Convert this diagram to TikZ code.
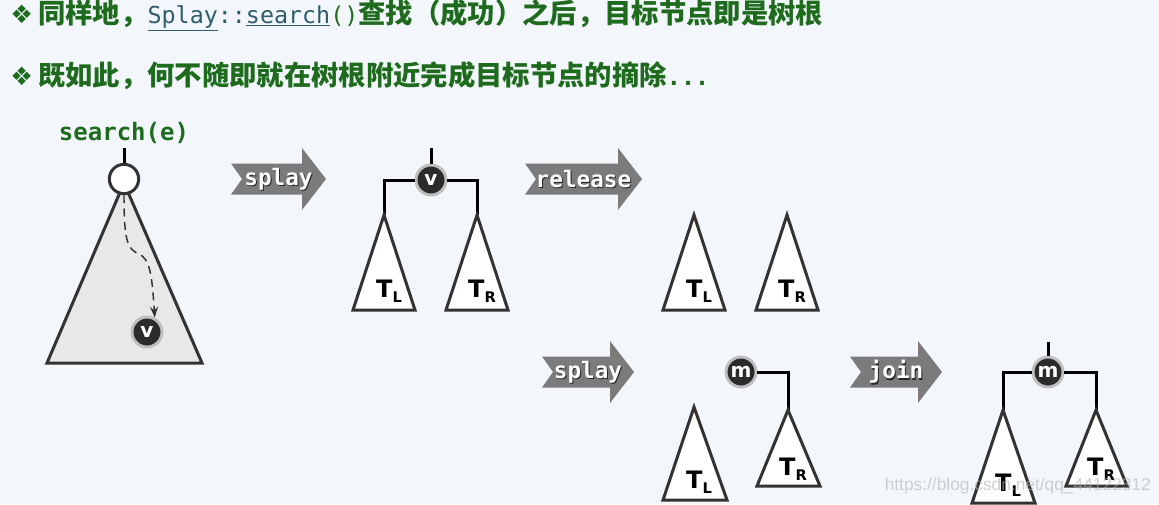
\documentclass[tikz,border=0pt]{standalone}
\usepackage{fontspec}
\setsansfont{DejaVu Sans}
\setmonofont{DejaVu Sans Mono}
\newfontfamily\cjkfont{Noto Sans CJK SC}
\newfontfamily\symfont{DejaVu Sans}
\newfontfamily\markfont{Liberation Sans}
\usetikzlibrary{positioning,arrows.meta}

\definecolor{pageBg}{HTML}{F3F7FB}
\definecolor{titleGreen}{HTML}{1E6B1E}
\definecolor{codeTeal}{HTML}{2E5D6E}
\definecolor{treeDark}{HTML}{333333}
\definecolor{opGray}{HTML}{7B7B7B}

\newcommand{\tsub}[1]{T\raisebox{-0.2em}{\fontsize{11}{11}\selectfont #1}}

\begin{document}
\begin{tikzpicture}[%
    x=0.75pt, y=-0.75pt,
    title/.style={%
        anchor=west,
        inner sep=0pt,
        text=titleGreen,
        font=\cjkfont\bfseries\fontsize{20.5}{20.5}\selectfont
    },
    subtree/.style={%
        draw=treeDark,
        fill=white,
        line width=2.25pt
    },
    bigtree/.style={%
        subtree,
        fill=black!9
    },
    edge/.style={%
        draw=black,
        line width=2.25pt
    },
    root/.style={%
        draw=treeDark,
        fill=white,
        circle,
        line width=2.25pt,
        minimum size=22pt,
        inner sep=0pt
    },
    hot/.style={%
        circle,
        fill=black!83,
        draw=black!25,
        line width=2.2pt,
        minimum size=22.5pt,
        inner sep=0pt,
        text=white,
        font=\sffamily\bfseries\fontsize{15}{15}\selectfont
    },
    sublabel/.style={%
        inner sep=0pt,
        font=\sffamily\bfseries\fontsize{18}{18}\selectfont
    },
    oplabel/.style={%
        inner sep=0pt,
        font=\ttfamily\bfseries\fontsize{17}{17}\selectfont
    },
    pics/op/.style 2 args={code={%
        \fill[opGray] (0,-15.5) -- (#1,-15.5) -- (#1,-31) -- ({#1+24},0)
            -- (#1,31) -- (#1,15.5) -- (0,15.5) -- (11,0) -- cycle;
        \node[oplabel, text=black!85] at ({#1/2+13},1.5) {#2};
        \node[oplabel, text=white] at ({#1/2+12},0) {#2};
    }},
    >=Stealth
]

\useasboundingbox (0,0) rectangle (1159,504);
\fill[pageBg] (0,0) rectangle (1159,504);

% Title lines
\node[title] (line1) at (10,15) {{\symfont\mdseries\fontsize{19}{19}\selectfont ❖}\hspace{4pt}同样地，{\ttfamily\mdseries\fontsize{17.5}{17.5}\selectfont{\color{codeTeal}\underline{Splay}::\underline{search}}()}查找（成功）之后，目标节点即是树根};
\node[title] (line2) at (10,76) {{\symfont\mdseries\fontsize{19}{19}\selectfont ❖}\hspace{4pt}既如此，何不随即就在树根附近完成目标节点的摘除{\ttfamily\fontsize{17.5}{17.5}\selectfont ...}};

% Search tree
\node[font=\ttfamily\bfseries\fontsize{18}{18}\selectfont, text=titleGreen] (call) at (124,133) {search(e)};
\coordinate (top0) at (124,148);
\coordinate (apex0) at (124,183);
\draw[bigtree] (apex0) -- ++(-77,180) -- ++(155,0) -- cycle;
\node[root] (r0) at (124,179) {};
\node[hot] (v0) at (147,332) {v};
\draw[edge] (top0) -- (r0);
\draw[->, treeDark, line width=1.1pt, dash pattern=on 6pt off 4pt]
    (r0.south) .. controls (124,240) and (127,249) .. (139,254)
    .. controls (150,259) and (152,275) .. (v0.62);

% Splay
\pic at (231,179) {op={71}{splay}};

% Tree after splay
\node[hot] (v1) at (431,180) {v};
\coordinate (top1) at (431,148);
\coordinate (tl1) at (384,215);
\coordinate (tr1) at (477,215);
\draw[edge] (top1) -- (v1);
\draw[edge] (v1) -| (tl1);
\draw[edge] (v1) -| (tr1);
\draw[subtree] (tl1) -- ++(-31,95) -- ++(62,0) -- cycle;
\draw[subtree] (tr1) -- ++(-31,95) -- ++(62,0) -- cycle;
\node[sublabel] (labl1) at (389,291) {\tsub{L}};
\node[sublabel] (labr1) at (482,291) {\tsub{R}};

% Release
\pic at (525,179) {op={93}{release}};

% Released subtrees
\coordinate (tl2) at (694,215);
\coordinate (tr2) at (787,215);
\draw[subtree] (tl2) -- ++(-31,95) -- ++(62,0) -- cycle;
\draw[subtree] (tr2) -- ++(-31,95) -- ++(62,0) -- cycle;
\node[sublabel] (labl2) at (699,291) {\tsub{L}};
\node[sublabel] (labr2) at (792,291) {\tsub{R}};

% Splay in right subtree
\pic at (542,372) {op={68}{splay}};

\node[hot] (m3) at (741,372) {m};
\coordinate (tl3) at (694,407);
\coordinate (tr3) at (788,410);
\draw[edge] (m3) -| (tr3);
\draw[subtree] (tl3) -- ++(-31,93) -- ++(64,0) -- cycle;
\draw[subtree] (tr3) -- ++(-31,76) -- ++(63,0) -- cycle;
\node[sublabel] (labl3) at (699,482) {\tsub{L}};
\node[sublabel] (labr3) at (793,469) {\tsub{R}};

% Join
\pic at (850,372) {op={68}{join}};

\node[hot] (m4) at (1048,372) {m};
\coordinate (top4) at (1048,342);
\coordinate (tl4) at (1003,410);
\coordinate (tr4) at (1096,410);
\draw[edge] (top4) -- (m4);
\draw[edge] (m4) -| (tl4);
\draw[edge] (m4) -| (tr4);
\draw[subtree] (tl4) -- ++(-31,93) -- ++(63,0) -- cycle;
\draw[subtree] (tr4) -- ++(-30,76) -- ++(61,0) -- cycle;
\node[sublabel] (labl4) at (1008,485) {\tsub{L}};
\node[sublabel] (labr4) at (1101,469) {\tsub{R}};

% Watermark
\node[anchor=east, inner sep=0pt, text=black!30, opacity=0.6,
    font=\markfont\fontsize{13}{13}\selectfont] (mark) at (1151,486) {https://blog.csdn.net/qq\_44122312};

\end{tikzpicture}
\end{document}
